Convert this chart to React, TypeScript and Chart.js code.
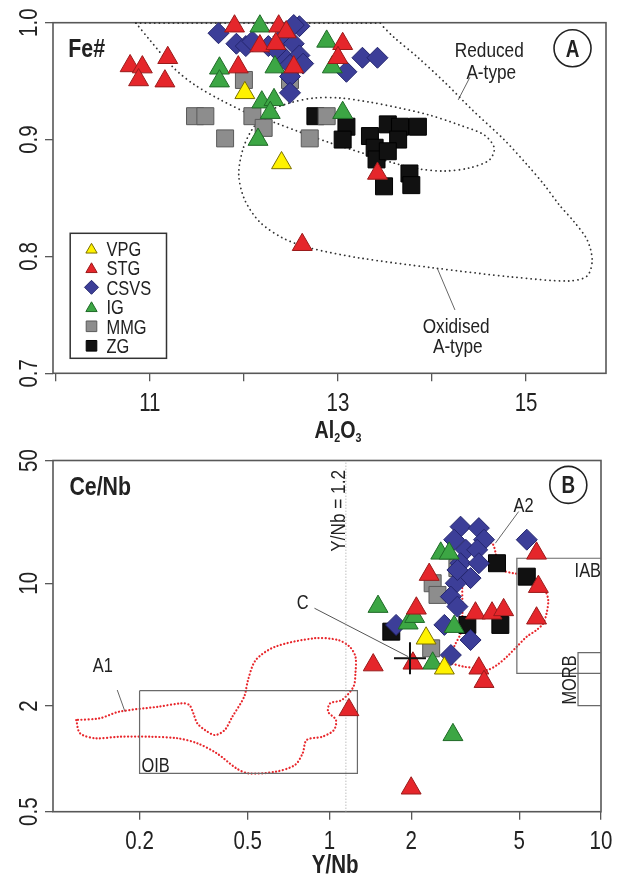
import React, { useEffect, useRef } from 'react';
import { Chart, registerables } from 'chart.js';

Chart.register(...registerables);

const FONT = "'Liberation Sans', Arial, Helvetica, sans-serif";
const NARROW = 0.82;

// ---------------- Panel A : Fe# vs Al2O3 ----------------
const A_X_TICKS = [10, 11, 12, 13, 14, 15];
const A_X_TICK_LABELS = ['', '11', '', '13', '', '15'];
const A_Y_TICKS = [0.7, 0.8, 0.9, 1.0];
const A_Y_TICK_LABELS = ['0.7', '0.8', '0.9', '1.0'];

const A_VPG_X = [12.01, 12.40];
const A_VPG_Y = [0.940, 0.880];
const A_STG_X = [10.79, 10.92, 11.19, 10.88, 11.16, 11.90, 12.37, 12.45, 12.17, 12.34, 11.94, 12.53, 13.05, 13.00, 13.42, 12.62];
const A_STG_Y = [0.963, 0.962, 0.970, 0.951, 0.950, 0.997, 0.997, 0.992, 0.980, 0.982, 0.962, 0.962, 0.982, 0.970, 0.871, 0.810];
const A_CSVS_X = [11.73, 11.92, 12.02, 12.09, 12.26, 12.42, 12.53, 12.59, 12.53, 12.42, 12.59, 12.49, 12.63, 12.49, 12.49, 13.09, 13.26, 13.42, 12.34];
const A_CSVS_Y = [0.991, 0.982, 0.980, 0.984, 0.980, 0.988, 0.982, 0.997, 0.998, 0.971, 0.972, 0.964, 0.965, 0.954, 0.940, 0.958, 0.970, 0.970, 0.977];
const A_IG_X = [12.17, 12.88, 12.94, 11.74, 11.74, 12.33, 12.19, 12.32, 12.28, 12.15, 13.05];
const A_IG_Y = [0.997, 0.984, 0.962, 0.961, 0.950, 0.962, 0.932, 0.934, 0.923, 0.900, 0.923];
const A_MMG_X = [11.48, 11.59, 12.00, 12.09, 12.21, 11.80, 12.70, 12.49, 12.88];
const A_MMG_Y = [0.920, 0.920, 0.951, 0.920, 0.910, 0.901, 0.901, 0.951, 0.920];
const A_ZG_X = [12.76, 13.09, 13.53, 13.66, 13.85, 13.05, 13.34, 13.64, 13.39, 13.41, 13.53, 13.76, 13.78, 13.49];
const A_ZG_Y = [0.920, 0.911, 0.913, 0.911, 0.911, 0.900, 0.903, 0.900, 0.893, 0.883, 0.890, 0.871, 0.861, 0.860];

// dotted field boundaries (reduced / oxidised A-type)
const A_FIELD_X = [10.851, 10.999, 11.255, 11.478, 11.754, 12.083, 12.338, 12.592, 12.921, 13.261, 13.59, 13.866, 14.131, 14.396, 14.609, 14.662, 14.556, 14.291, 13.972, 13.654, 13.335, 13.017, 12.752, 12.486, 12.253, 12.083, 11.987, 11.945, 12.009, 12.168, 12.412, 12.699, 13.23, 14.016, 14.854, 15.459, 15.65, 15.703, 15.65, 15.512, 15.353, 15.194, 15.013, 14.769, 14.429, 14.143, 13.845, 13.591, 13.453];
const A_FIELD_Y = [0.9997, 0.9852, 0.9612, 0.9467, 0.9339, 0.9210, 0.9142, 0.9065, 0.8971, 0.8885, 0.88, 0.8748, 0.8731, 0.8757, 0.8825, 0.8928, 0.9039, 0.9125, 0.921, 0.927, 0.9321, 0.9356, 0.9356, 0.9313, 0.9236, 0.9082, 0.8911, 0.8697, 0.8483, 0.8295, 0.8158, 0.8073, 0.7987, 0.7902, 0.7824, 0.779, 0.7833, 0.797, 0.8141, 0.8295, 0.8441, 0.8612, 0.8783, 0.8997, 0.9253, 0.9484, 0.9706, 0.9878, 0.9989];
const A_FIELD_TOP_X = [10.851, 13.453];
const A_FIELD_TOP_Y = [0.9997, 0.9997];
const A_LEADER_RED_X = [14.403, 14.278];
const A_LEADER_RED_Y = [0.9533, 0.9339];
const A_LEADER_OX_X = [14.056, 14.244];
const A_LEADER_OX_Y = [0.7899, 0.7542];

// ---------------- Panel B : Ce/Nb vs Y/Nb ----------------
const B_X_TICKS = [0.2, 0.5, 1, 2, 5, 10];
const B_X_TICK_LABELS = ['0.2', '0.5', '1', '2', '5', '10'];
const B_Y_TICKS = [0.5, 2, 10, 50];
const B_Y_TICK_LABELS = ['0.5', '2', '10', '50'];

const B_VPG_X = [2.27, 2.65];
const B_VPG_Y = [4.86, 3.28];
const B_STG_X = [5.79, 2.33, 5.88, 2.09, 3.45, 3.97, 4.38, 5.79, 1.45, 2.03, 3.55, 3.71, 1.18, 2.00];
const B_STG_Y = [14.8, 11.2, 9.56, 7.2, 6.75, 6.75, 7.05, 6.32, 3.42, 3.5, 3.28, 2.75, 1.90, 0.68];
const B_CSVS_X = [3.04, 3.55, 2.88, 3.71, 3.18, 3.50, 3.04, 3.55, 3.31, 2.92, 2.80, 2.96, 2.65, 3.31, 2.80, 5.33, 1.76, 2.96];
const B_CSVS_Y = [21.0, 20.6, 17.7, 17.7, 15.5, 15.5, 13.0, 13.0, 10.7, 10.0, 8.39, 7.36, 5.79, 4.75, 3.90, 17.7, 5.79, 11.9];
const B_IG_X = [1.51, 2.57, 2.76, 1.95, 2.06, 2.88, 2.40, 2.85];
const B_IG_Y = [7.36, 14.8, 14.8, 5.92, 6.45, 5.66, 3.50, 1.37];
const B_MMG_X = [2.96, 2.40, 2.50, 2.37];
const B_MMG_Y = [12.2, 10.0, 8.58, 4.26];
const B_ZG_X = [4.14, 5.33, 1.69, 3.22, 4.26];
const B_ZG_Y = [13.0, 10.9, 5.30, 5.79, 5.79];
const B_C_X = [1.98];
const B_C_Y = [3.74];

const B_A1_X = [0.1169, 0.1208, 0.1379, 0.1681, 0.2193, 0.2764, 0.3262, 0.3849, 0.4544, 0.5016, 0.6323, 0.7464, 0.7969, 0.8245, 0.9414, 1.039, 1.057, 0.989, 1.006, 1.111, 1.226, 1.247, 1.247, 1.187, 1.075, 0.881, 0.6323, 0.5359, 0.5016, 0.4855, 0.4392, 0.4115, 0.3788, 0.3483, 0.3262, 0.3155, 0.3051, 0.2858, 0.2343, 0.1681, 0.1425, 0.1169];
const B_A1_Y = [1.664, 1.397, 1.309, 1.336, 1.336, 1.309, 1.226, 1.075, 0.883, 0.827, 0.844, 0.922, 1.075, 1.28, 1.336, 1.459, 1.664, 1.855, 2.071, 2.163, 2.575, 3.07, 3.818, 4.352, 4.752, 4.859, 4.352, 3.656, 2.812, 2.259, 1.738, 1.459, 1.366, 1.459, 1.594, 1.816, 2.025, 2.071, 1.981, 1.855, 1.701, 1.664];
const B_A2_X = [2.799, 2.88, 3.043, 3.087, 3.087, 3.087, 3.131, 3.221, 3.406, 3.705, 3.972, 4.083, 4.142, 4.319, 4.765, 5.33, 5.794, 6.214, 6.394, 6.304, 6.131, 5.794, 5.33, 4.898, 4.505, 4.142, 3.809, 3.502, 3.131, 2.799];
const B_A2_Y = [3.5, 4.352, 5.189, 6.451, 8.03, 10, 12.43, 14.82, 16.53, 17.03, 16.9, 15.14, 13.28, 11.9, 11.4, 11.15, 10.44, 9.16, 8.03, 6.746, 5.916, 5.418, 4.963, 4.352, 3.818, 3.423, 3.206, 3.278, 3.347, 3.5];

const B_OIB_X = [0.2, 1.268, 1.268, 0.2, 0.2];
const B_OIB_Y = [2.443, 2.443, 0.8266, 0.8266, 2.443];
const B_IAB_X = [10, 4.9, 4.9, 10];
const B_IAB_Y = [13.88, 13.88, 3.07, 3.07];
const B_MORB_X = [10, 8.23, 8.23, 10];
const B_MORB_Y = [4.024, 4.024, 2.007, 2.007];
const B_YNB_X = [1.15, 1.15];
const B_YNB_Y = [0.5, 50];
const B_LEADER_A2_X = [4.975, 4.083];
const B_LEADER_A2_Y = [25.6, 16.9];
const B_LEADER_C_X = [0.881, 1.951];
const B_LEADER_C_Y = [7.206, 3.818];
const B_LEADER_A1_X = [0.1655, 0.1768];
const B_LEADER_A1_Y = [2.466, 1.855];

// ---------------- styles ----------------
const SERIES = ['VPG', 'STG', 'CSVS', 'IG', 'MMG', 'ZG'];
const STYLE: Record<string, { shape: string; fill: string; stroke: string; r: number }> = {
  VPG: { shape: 'triangle', fill: '#fff200', stroke: '#7a6f00', r: 11.5 },
  STG: { shape: 'triangle', fill: '#e5262b', stroke: '#9a1b1b', r: 11.5 },
  CSVS: { shape: 'rectRot', fill: '#3c3e98', stroke: '#24266e', r: 10.5 },
  IG: { shape: 'triangle', fill: '#3ca644', stroke: '#1f6a27', r: 11.5 },
  MMG: { shape: 'rect', fill: '#8d8d8d', stroke: '#5a5a5a', r: 12 },
  ZG: { shape: 'rect', fill: '#111111', stroke: '#000000', r: 12 },
};
const DRAW_ORDER: Record<string, number> = { ZG: 6, MMG: 5, CSVS: 4, IG: 3, STG: 2, VPG: 1 };

const zip = (xs: number[], ys: number[]) => xs.map((x, i) => ({ x, y: ys[i] }));

function pts(name: string, xs: number[], ys: number[]) {
  const s = STYLE[name];
  return {
    label: name,
    data: zip(xs, ys),
    pointStyle: s.shape,
    pointRadius: s.r,
    pointBackgroundColor: s.fill,
    pointBorderColor: s.stroke,
    pointBorderWidth: 1,
    showLine: false,
    order: DRAW_ORDER[name],
    clip: false,
  };
}

function line(xs: number[], ys: number[], color: string, width: number, dash: number[], tension = 0, cap = 'butt') {
  return {
    label: '',
    data: zip(xs, ys),
    showLine: true,
    pointRadius: 0,
    borderColor: color,
    borderWidth: width,
    borderDash: dash,
    borderCapStyle: cap,
    tension,
    fill: false,
    order: 20,
    clip: false,
  };
}

function text(ctx: CanvasRenderingContext2D, s: string, x: number, y: number, size: number, o: any = {}) {
  ctx.save();
  ctx.font = `${o.bold ? 'bold ' : ''}${size}px ${FONT}`;
  ctx.fillStyle = o.color || '#222';
  ctx.textAlign = o.align || 'center';
  ctx.textBaseline = 'alphabetic';
  ctx.translate(x, y);
  if (o.rotate) ctx.rotate(o.rotate);
  ctx.scale(NARROW, 1);
  ctx.fillText(s, 0, size * 0.36);
  ctx.restore();
}

function marker(ctx: CanvasRenderingContext2D, shape: string, x: number, y: number, r: number, fill: string, stroke: string) {
  ctx.save();
  ctx.beginPath();
  if (shape === 'triangle') {
    ctx.moveTo(x, y - r);
    ctx.lineTo(x + r * 0.866, y + r / 2);
    ctx.lineTo(x - r * 0.866, y + r / 2);
  } else if (shape === 'rectRot') {
    ctx.moveTo(x, y - r);
    ctx.lineTo(x + r, y);
    ctx.lineTo(x, y + r);
    ctx.lineTo(x - r, y);
  } else {
    const h = r * Math.SQRT1_2;
    ctx.rect(x - h, y - h, 2 * h, 2 * h);
  }
  ctx.closePath();
  ctx.fillStyle = fill;
  ctx.fill();
  ctx.strokeStyle = stroke;
  ctx.lineWidth = 1;
  ctx.stroke();
  ctx.restore();
}

type Note = { kind: 'text' | 'circle' | 'vtext'; x: number; y: number; s: string; size: number; bold?: boolean; align?: string };

function panelPlugin(cfg: {
  xTicks: number[]; xLabels: string[]; yTicks: number[]; yLabels: string[];
  title: (ctx: CanvasRenderingContext2D, cx: number, baseY: number) => void; titleX: number;
  notes: Note[]; legend: boolean;
}) {
  return {
    id: 'panel',
    beforeDatasetsDraw(chart: any) {
      const { ctx, chartArea: ca } = chart;
      ctx.save();
      ctx.strokeStyle = '#585858';
      ctx.lineWidth = 1.6;
      ctx.strokeRect(ca.left, ca.top, ca.right - ca.left, ca.bottom - ca.top);
      ctx.restore();
    },
    afterDatasetsDraw(chart: any) {
      const { ctx, chartArea: ca, scales } = chart;
      const sx = scales.x, sy = scales.y;
      cfg.xTicks.forEach((v, i) => {
        if (cfg.xLabels[i]) text(ctx, cfg.xLabels[i], sx.getPixelForValue(v), ca.bottom + 28.5, 25);
      });
      cfg.yTicks.forEach((v, i) => {
        text(ctx, cfg.yLabels[i], ca.left - 25, sy.getPixelForValue(v), 25, { rotate: -Math.PI / 2 });
      });
      cfg.title(ctx, sx.getPixelForValue(cfg.titleX), ca.bottom);
      cfg.notes.forEach((n) => {
        const px = sx.getPixelForValue(n.x), py = sy.getPixelForValue(n.y);
        if (n.kind === 'circle') {
          ctx.save();
          ctx.beginPath();
          ctx.arc(px, py, 18.5, 0, Math.PI * 2);
          ctx.strokeStyle = '#222';
          ctx.lineWidth = 1.6;
          ctx.stroke();
          ctx.restore();
          text(ctx, n.s, px, py, n.size, { bold: true });
        } else if (n.kind === 'vtext') {
          text(ctx, n.s, px, py, n.size, { rotate: -Math.PI / 2 });
        } else {
          text(ctx, n.s, px, py, n.size, { bold: n.bold, align: n.align });
        }
      });
      if (cfg.legend) {
        const L = ca.left + 17.2, T = ca.top + 210.6;
        ctx.save();
        ctx.fillStyle = '#fff';
        ctx.fillRect(L, T, 96.3, 125);
        ctx.strokeStyle = '#333';
        ctx.lineWidth = 1.5;
        ctx.strokeRect(L, T, 96.3, 125);
        ctx.restore();
        SERIES.forEach((name, i) => {
          const s = STYLE[name];
          const y = T + 15 + i * 19.5;
          const r = s.shape === 'triangle' ? 6.5 : s.shape === 'rectRot' ? 7 : 7.5;
          marker(ctx, s.shape, L + 21.3, y + (s.shape === 'triangle' ? 1.5 : 0), r, s.fill, s.stroke);
          text(ctx, name, L + 36.3, y, 20, { align: 'left' });
        });
      }
    },
  };
}

function scaleOpts(type: string, min: number, max: number, ticks: number[], size: number, horizontal: boolean) {
  return {
    type,
    min,
    max,
    afterBuildTicks: (s: any) => { s.ticks = ticks.map((v) => ({ value: v })); },
    afterFit: (s: any) => { if (horizontal) s.height = size; else s.width = size; },
    ticks: { display: false },
    grid: { display: true, drawOnChartArea: false, drawTicks: true, tickLength: 8, color: '#585858', lineWidth: 1.3 },
    border: { display: false },
  };
}

const A_NOTES: Note[] = [
  { kind: 'text', x: 10.133, y: 0.9788, s: 'Fe#', size: 26, bold: true, align: 'left' },
  { kind: 'circle', x: 15.494, y: 0.9781, s: 'A', size: 23 },
  { kind: 'text', x: 14.609, y: 0.9775, s: 'Reduced', size: 21 },
  { kind: 'text', x: 14.63, y: 0.9587, s: 'A-type', size: 21 },
  { kind: 'text', x: 14.257, y: 0.7413, s: 'Oxidised', size: 21 },
  { kind: 'text', x: 14.274, y: 0.7242, s: 'A-type', size: 21 },
];

const B_NOTES: Note[] = [
  { kind: 'text', x: 0.1103, y: 35.84, s: 'Ce/Nb', size: 26, bold: true, align: 'left' },
  { kind: 'circle', x: 7.58, y: 36.32, s: 'B', size: 23 },
  { kind: 'text', x: 5.183, y: 27.94, s: 'A2', size: 20 },
  { kind: 'text', x: 0.797, y: 7.855, s: 'C', size: 20 },
  { kind: 'vtext', x: 1.075, y: 25.82, s: 'Y/Nb = 1.2', size: 21 },
  { kind: 'text', x: 0.1464, y: 3.423, s: 'A1', size: 20 },
  { kind: 'text', x: 0.2034, y: 0.92, s: 'OIB', size: 20, align: 'left' },
  { kind: 'text', x: 8.943, y: 11.9, s: 'IAB', size: 20 },
  { kind: 'vtext', x: 7.58, y: 2.812, s: 'MORB', size: 20 },
];

function titleAl2O3(ctx: CanvasRenderingContext2D, cx: number, bottom: number) {
  const base = bottom + 65;
  const parts: [string, boolean][] = [['Al', false], ['2', true], ['O', false], ['3', true]];
  ctx.save();
  ctx.fillStyle = '#222';
  ctx.textBaseline = 'alphabetic';
  ctx.textAlign = 'left';
  let w = 0;
  const widths = parts.map(([s, sub]) => {
    ctx.font = `bold ${sub ? 13 : 24}px ${FONT}`;
    const m = ctx.measureText(s).width * NARROW;
    w += m;
    return m;
  });
  let x = cx - w / 2;
  parts.forEach(([s, sub], i) => {
    ctx.save();
    ctx.font = `bold ${sub ? 13 : 24}px ${FONT}`;
    ctx.translate(x, sub ? base + 4 : base);
    ctx.scale(NARROW, 1);
    ctx.fillText(s, 0, 0);
    ctx.restore();
    x += widths[i];
  });
  ctx.restore();
}

function titleYNb(ctx: CanvasRenderingContext2D, cx: number, bottom: number) {
  ctx.save();
  ctx.fillStyle = '#222';
  ctx.font = `bold 25px ${FONT}`;
  ctx.textAlign = 'center';
  ctx.textBaseline = 'alphabetic';
  ctx.translate(cx, bottom + 61.5);
  ctx.scale(NARROW, 1);
  ctx.fillText('Y/Nb', 0, 0);
  ctx.restore();
}

function buildA(): any {
  const dot = [0.1, 4.6];
  return {
    type: 'scatter',
    data: {
      datasets: [
        line(A_FIELD_X, A_FIELD_Y, '#333', 1.8, dot, 0.3, 'round'),
        line(A_FIELD_TOP_X, A_FIELD_TOP_Y, '#333', 1.8, dot, 0, 'round'),
        line(A_LEADER_RED_X, A_LEADER_RED_Y, '#666', 1, []),
        line(A_LEADER_OX_X, A_LEADER_OX_Y, '#666', 1, []),
        pts('ZG', A_ZG_X, A_ZG_Y),
        pts('MMG', A_MMG_X, A_MMG_Y),
        pts('CSVS', A_CSVS_X, A_CSVS_Y),
        pts('IG', A_IG_X, A_IG_Y),
        pts('STG', A_STG_X, A_STG_Y),
        pts('VPG', A_VPG_X, A_VPG_Y),
      ],
    },
    options: {
      responsive: false,
      animation: false,
      events: [],
      layout: { padding: { left: 0, top: 22.7, right: 12.3, bottom: 0 } },
      plugins: { legend: { display: false }, tooltip: { enabled: false } },
      scales: {
        x: scaleOpts('linear', 9.97, 15.85, A_X_TICKS, 76.7, true),
        y: scaleOpts('linear', 0.7, 1.0, A_Y_TICKS, 53, false),
      },
    },
    plugins: [panelPlugin({
      xTicks: A_X_TICKS, xLabels: A_X_TICK_LABELS, yTicks: A_Y_TICKS, yLabels: A_Y_TICK_LABELS,
      title: titleAl2O3, titleX: 13, notes: A_NOTES, legend: true,
    })],
  };
}

function buildB(): any {
  const red = '#e8262b';
  const rdot = [0.1, 3.4];
  return {
    type: 'scatter',
    data: {
      datasets: [
        line(B_YNB_X, B_YNB_Y, '#a0a0a0', 1, [1, 2]),
        line(B_OIB_X, B_OIB_Y, '#6a6a6a', 1.2, []),
        line(B_IAB_X, B_IAB_Y, '#6a6a6a', 1.2, []),
        line(B_MORB_X, B_MORB_Y, '#6a6a6a', 1.2, []),
        line(B_A1_X, B_A1_Y, red, 2.2, rdot, 0.3, 'round'),
        line(B_A2_X, B_A2_Y, red, 2.2, rdot, 0.3, 'round'),
        line(B_LEADER_A2_X, B_LEADER_A2_Y, '#666', 1, []),
        line(B_LEADER_C_X, B_LEADER_C_Y, '#555', 1, []),
        line(B_LEADER_A1_X, B_LEADER_A1_Y, '#666', 1, []),
        pts('ZG', B_ZG_X, B_ZG_Y),
        pts('MMG', B_MMG_X, B_MMG_Y),
        pts('CSVS', B_CSVS_X, B_CSVS_Y),
        pts('IG', B_IG_X, B_IG_Y),
        pts('STG', B_STG_X, B_STG_Y),
        pts('VPG', B_VPG_X, B_VPG_Y),
        {
          label: 'C', data: zip(B_C_X, B_C_Y), pointStyle: 'cross', pointRadius: 16,
          pointBorderColor: '#111', pointBorderWidth: 2, showLine: false, order: 0, clip: false,
        },
      ],
    },
    options: {
      responsive: false,
      animation: false,
      events: [],
      layout: { padding: { left: 0, top: 20.5, right: 12.3, bottom: 0 } },
      plugins: { legend: { display: false }, tooltip: { enabled: false } },
      scales: {
        x: scaleOpts('logarithmic', 0.096, 10, B_X_TICKS, 67.3, true),
        y: scaleOpts('logarithmic', 0.5, 50, B_Y_TICKS, 53, false),
      },
    },
    plugins: [panelPlugin({
      xTicks: B_X_TICKS, xLabels: B_X_TICK_LABELS, yTicks: B_Y_TICKS, yLabels: B_Y_TICK_LABELS,
      title: titleYNb, titleX: 1.05, notes: B_NOTES, legend: false,
    })],
  };
}

export default function App() {
  const refA = useRef<HTMLCanvasElement>(null);
  const refB = useRef<HTMLCanvasElement>(null);
  useEffect(() => {
    const a = new Chart(refA.current as HTMLCanvasElement, buildA());
    const b = new Chart(refB.current as HTMLCanvasElement, buildB());
    return () => { a.destroy(); b.destroy(); };
  }, []);
  return (
    <div style={{ position: 'absolute', left: 0, top: 0, width: 619, height: 879, background: '#fff', overflow: 'hidden' }}>
      <canvas ref={refA} width={619} height={450} style={{ position: 'absolute', left: 0, top: 0, width: 619, height: 450 }} />
      <canvas ref={refB} width={619} height={439} style={{ position: 'absolute', left: 0, top: 440, width: 619, height: 439 }} />
    </div>
  );
}
